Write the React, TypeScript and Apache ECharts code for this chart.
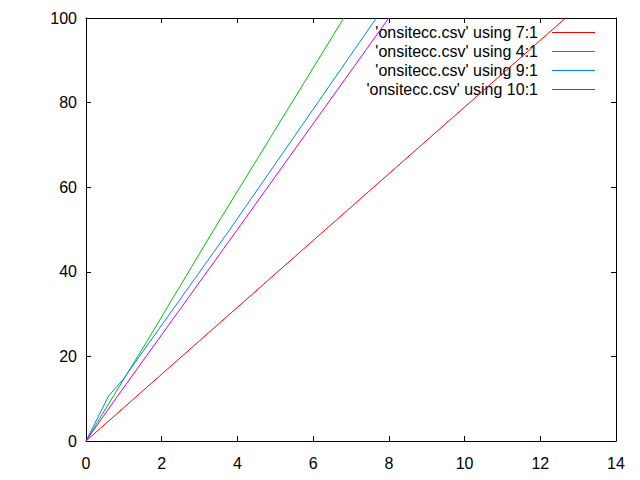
import React, { useEffect, useRef } from "react";
import * as echarts from "echarts";

const seriesNames = [
  "'onsitecc.csv' using 7:1",
  "'onsitecc.csv' using 4:1",
  "'onsitecc.csv' using 9:1",
  "'onsitecc.csv' using 10:1",
];
const seriesColors = ["#ff0000", "#00c000", "#0080ff", "#c000ff"];

const using7X = [0, 0.95, 3.0, 6.33, 12.67];
const using7Y = [0, 7.5, 23.7, 50, 100];
const using4X = [0, 0.73, 1.62, 3.38, 6.81];
const using4Y = [0, 10.7, 23.7, 50, 100];
const using9X = [0, 0.6, 0.95, 3.8, 7.67];
const using9Y = [0, 10.7, 14.2, 50, 100];
const using10X = [0, 0.84, 4.0, 8.0];
const using10Y = [0, 10.7, 50, 100];

const xTicks = [0, 2, 4, 6, 8, 10, 12, 14];
const yTicks = [0, 20, 40, 60, 80, 100];

const seriesX = [using7X, using4X, using9X, using10X];
const seriesY = [using7Y, using4Y, using9Y, using10Y];

const FONT = "'Liberation Sans', Arial, sans-serif";

export default function App() {
  const ref = useRef<HTMLDivElement>(null);
  useEffect(() => {
    if (!ref.current) return;
    const chart = echarts.init(ref.current, null, { renderer: "svg" });
    const axisCommon = {
      axisLine: { show: true, onZero: false, lineStyle: { color: "#000", width: 1 } },
      axisTick: { show: true, inside: true, length: 5, lineStyle: { color: "#000" } },
      splitLine: { show: false },
    };
    const xCommon = {
      type: "value" as const,
      min: xTicks[0],
      max: xTicks[xTicks.length - 1],
      interval: xTicks[1] - xTicks[0],
      ...axisCommon,
    };
    const yCommon = {
      type: "value" as const,
      min: yTicks[0],
      max: yTicks[yTicks.length - 1],
      interval: yTicks[1] - yTicks[0],
      ...axisCommon,
    };
    const rowY = [32, 51, 70, 89];
    const legendGraphics: any[] = [];
    seriesNames.forEach((n, i) => {
      legendGraphics.push({
        type: "text",
        x: 538,
        y: rowY[i],
        style: {
          text: n,
          fill: "#000",
          font: `16px ${FONT}`,
          textAlign: "right",
          textVerticalAlign: "middle",
        },
      });
      legendGraphics.push({
        type: "line",
        shape: { x1: 552, y1: rowY[i] + 0.5, x2: 595, y2: rowY[i] + 0.5 },
        style: { stroke: seriesColors[i], lineWidth: 1 },
      });
    });
    chart.setOption({
      animation: false,
      backgroundColor: "#fff",
      grid: { left: 86, right: 24, top: 18, bottom: 39, containLabel: false },
      xAxis: [
        {
          ...xCommon,
          position: "bottom",
          axisLabel: { show: true, color: "#000", fontSize: 16, fontFamily: FONT, margin: 14 },
        },
        {
          ...xCommon,
          position: "top",
          axisLabel: { show: false },
        },
      ],
      yAxis: [
        {
          ...yCommon,
          position: "left",
          axisLabel: { show: true, color: "#000", fontSize: 16, fontFamily: FONT, margin: 9 },
        },
        {
          ...yCommon,
          position: "right",
          axisLabel: { show: false },
        },
      ],
      series: seriesNames.map((name, i) => ({
        name,
        type: "line",
        xAxisIndex: 0,
        yAxisIndex: 0,
        showSymbol: false,
        symbol: "none",
        lineStyle: { color: seriesColors[i], width: 1 },
        itemStyle: { color: seriesColors[i] },
        data: seriesX[i].map((x, j) => [x, seriesY[i][j]]),
        clip: true,
      })),
      graphic: legendGraphics,
    });
    return () => chart.dispose();
  }, []);
  return (
    <div
      ref={ref}
      style={{ position: "absolute", left: 0, top: 0, width: 640, height: 480 }}
    />
  );
}
